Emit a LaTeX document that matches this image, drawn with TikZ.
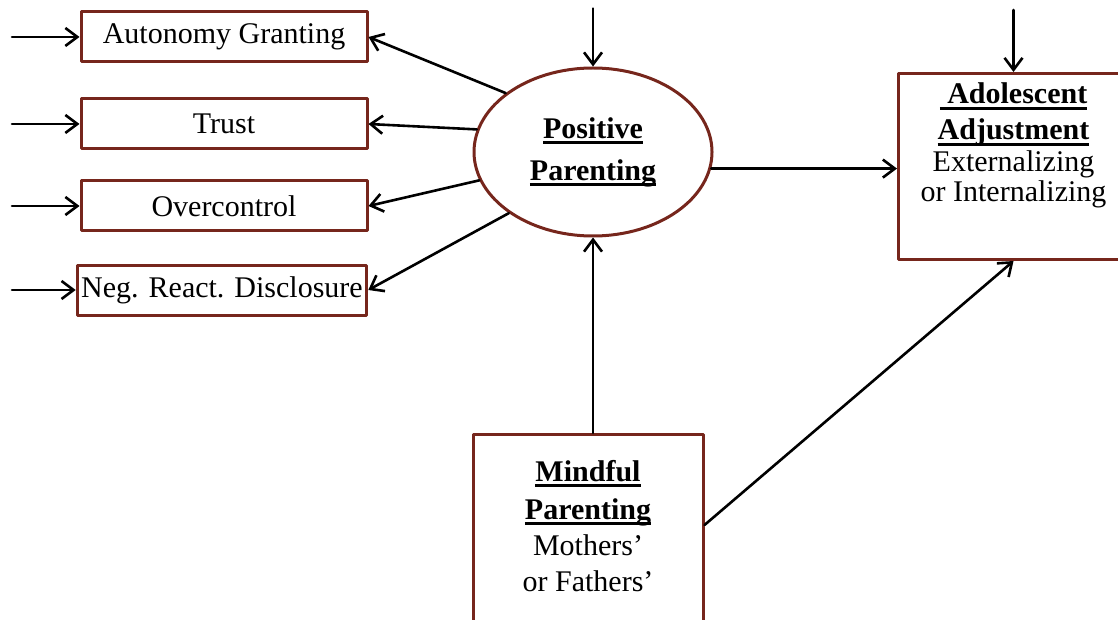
\documentclass[tikz,border=0pt]{standalone}
\usepackage{fontspec}
\setmainfont{Liberation Serif}
\usetikzlibrary{arrows.meta,shapes.geometric}
\definecolor{boxred}{RGB}{118,38,28}
% bold text with a thick underline
\newcommand{\ulbf}[1]{\setbox0\hbox{\bfseries #1}\rlap{\rule[-3pt]{\wd0}{1.3pt}}\box0}
\begin{document}
\begin{tikzpicture}[x=0.5pt,y=-0.5pt,>={Straight Barb[length=6pt,width=9pt]}, line join=round, line cap=round,
  font=\fontsize{15}{18}\selectfont,
  ind/.style={draw=boxred,line width=1.5pt,minimum width=143pt,minimum height=25pt,inner sep=2pt},
  big/.style={draw=boxred,line width=1.5pt,align=center,inner sep=0pt},
  arr/.style={->,line width=1.3pt}]
\useasboundingbox (0,0) rectangle (1118,620);
\clip (0,0) rectangle (1118,620);
% indicators
\node[ind] (auto) at (224,37) {Autonomy Granting};
\node[ind] (trust) at (224,124) {Trust};
\node[ind] (over) at (224,206) {Overcontrol};
\node[ind] (neg) at (222,290) {Neg. React. Disclosure};
% latent and observed variables
\node[big,ellipse,minimum width=119pt,minimum height=84pt] (pp) at (593,152)
  {\ulbf{Positive}\\[3pt]\ulbf{Parenting}};
\node[big,anchor=north west,minimum width=115pt,minimum height=93pt] (adj) at (897,72)
  {\ulbf{\ Adolescent}\\[0pt]\ulbf{Adjustment}\\[-2pt]Externalizing\\[-3pt]or Internalizing\rule[-24pt]{0pt}{0pt}};
\node[big,anchor=north,minimum width=115pt,minimum height=114pt] (mind) at (588,433)
  {\ulbf{Mindful}\\[1pt]\ulbf{Parenting}\\Mothers'\\or Fathers'\rule[-23pt]{0pt}{0pt}};
% residual arrows
\foreach \b/\y in {auto/37,trust/124,over/206,neg/290}{
  \coordinate (src\b) at (12,\y);
  \draw[arr] (src\b) -- (\b);
}
\coordinate (srcpp) at ([yshift=29pt]pp.north);
\coordinate (srcadj) at ([yshift=31pt]adj.north);
\draw[arr] (srcpp) -- (pp.north);
\draw[arr] (srcadj) -- (adj.north);
% loadings
\draw[arr] (pp.146) -- (auto.east);
\draw[arr] (pp.169) -- (trust.east);
\draw[arr] (pp.194) -- (over.east);
\draw[arr] (pp.216) -- (neg.east);
% paths
\draw[arr] (pp.-8) -- (pp.-8 -| adj.west);
\draw[arr] (mind.north -| pp.south) -- (pp.south);
\draw[arr] ([yshift=-46pt]mind.north east) -- (adj.south);
\end{tikzpicture}
\end{document}
